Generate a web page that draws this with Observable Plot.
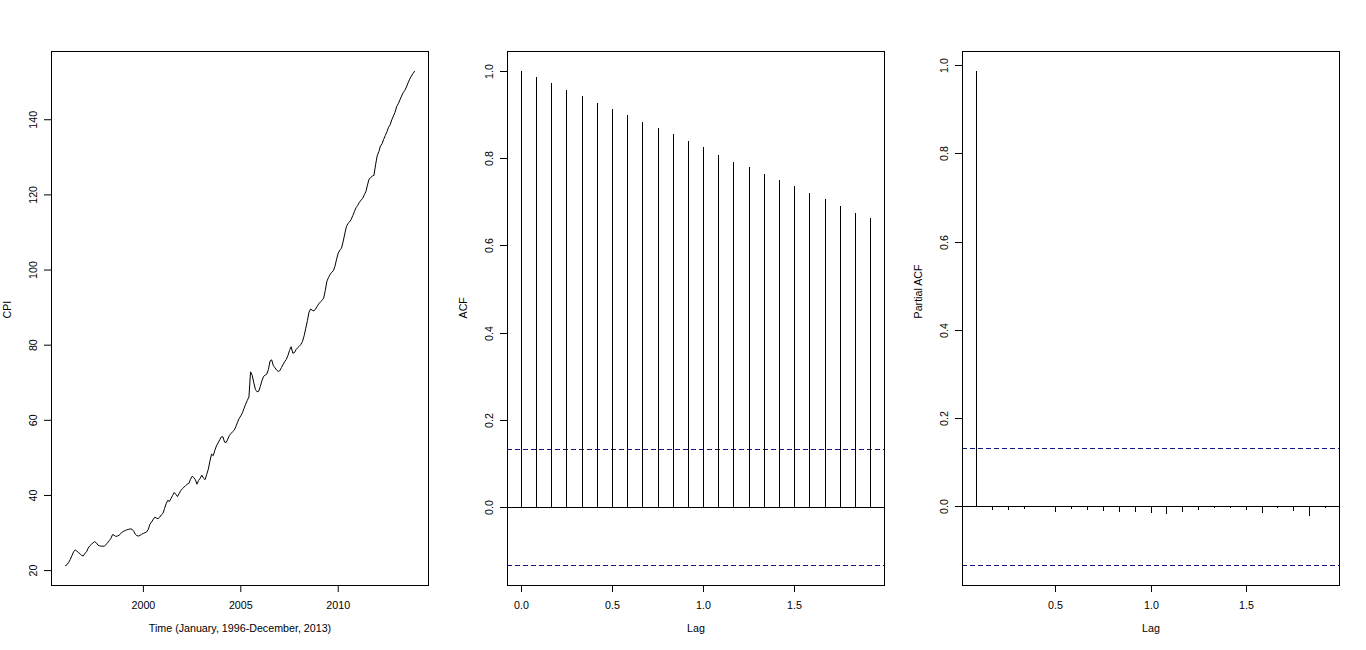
<!DOCTYPE html>
<html><head><meta charset="utf-8">
<script src="https://cdn.jsdelivr.net/npm/d3@7"></script>
<script src="https://cdn.jsdelivr.net/npm/@observablehq/plot@0.6"></script>
<style>body{margin:0;background:#fff} #row{display:flex;width:1366px;height:650px;align-items:flex-start}</style>
</head><body><div id="row"></div>
<script>
// Monthly CPI, January 1996 - December 2013
const startYear = 1996;
const cpi = [
21.3,21.6,22.2,23.0,24.0,25.0,25.5,25.2,24.8,24.5,24.0,23.9,
24.6,25.0,26.0,26.6,27.0,27.4,27.7,27.4,26.8,26.6,26.5,26.5,
26.5,27.0,27.4,28.0,28.6,29.6,29.4,29.1,29.2,29.4,29.8,30.3,
30.5,30.7,30.9,31.0,31.1,31.0,30.5,29.7,29.3,29.2,29.4,29.7,
29.9,30.1,30.3,31.0,32.3,32.9,33.6,34.2,34.0,33.8,34.2,34.8,
35.2,36.5,37.8,38.7,38.4,39.2,40.0,40.8,40.3,39.7,40.5,41.3,
41.8,42.2,42.6,43.0,43.2,44.3,45.1,44.8,44.2,43.0,44.0,44.6,
45.4,44.6,44.2,45.6,47.0,49.2,51.0,50.6,52.0,53.2,54.0,54.8,
55.6,55.6,54.2,54.1,55.0,56.0,56.5,57.0,57.4,58.4,59.5,60.5,
61.2,62.0,63.2,64.3,65.3,66.2,72.9,72.0,70.0,68.2,67.6,67.7,
69.0,70.5,71.7,72.0,72.3,73.5,75.8,76.1,74.6,74.0,73.4,73.0,
73.2,74.0,74.8,75.6,76.2,77.2,78.6,79.6,77.9,78.0,78.8,79.3,
79.7,80.2,81.0,82.5,84.5,86.5,88.8,89.6,89.3,89.1,89.6,90.3,
91.0,91.5,91.9,92.5,94.5,97.0,98.0,98.8,99.4,99.8,101.0,102.9,
104.5,105.3,105.8,107.5,109.6,111.5,112.4,112.8,113.5,114.5,115.6,116.6,
117.2,118.0,118.6,119.0,120.0,120.8,122.6,124.2,124.6,125.0,125.2,128.0,
130.4,131.5,133.0,133.6,134.8,135.8,136.8,138.0,138.7,140.0,141.0,142.0,
143.5,144.3,145.3,146.3,147.2,147.8,148.7,149.8,150.8,151.6,152.3,152.9
];
// ACF at lags 0..23 months
const acfValues = [1.000,0.985,0.972,0.956,0.942,0.926,0.912,0.898,0.882,0.868,0.855,0.838,
  0.825,0.808,0.792,0.779,0.763,0.749,0.735,0.719,0.705,0.691,0.675,0.662];
// PACF at lags 1..23 months
const pacfValues = [0.987,-0.009,-0.0075,-0.006,0.001,-0.012,-0.006,-0.0075,-0.0105,-0.012,-0.012,-0.015,
  -0.0166,-0.012,-0.0075,-0.003,-0.003,-0.009,-0.015,-0.003,-0.0105,-0.021,-0.0045];
const nObs = cpi.length;
const ci = 1.96 / Math.sqrt(nObs);

const cpiTicksY = [20,40,60,80,100,120,140];
const yearTicks = [2000,2005,2010];
const acfTicksY = [0,0.2,0.4,0.6,0.8,1.0];
const acfTicksX = [0,0.5,1.0,1.5];
const pacfTicksX = [0.5,1.0,1.5];

const series = cpi.map((v,i)=>({t: startYear + i/12, v}));
const acfData = acfValues.map((v,i)=>({lag: i/12, v}));
const pacfData = pacfValues.map((v,i)=>({lag: (i+1)/12, v}));

function pad(arr){const lo=d3.min(arr), hi=d3.max(arr), d=(hi-lo)*0.04; return [lo-d, hi+d];}

const style = {fontFamily:"'Liberation Sans', Arial, sans-serif", fontSize:"10.7px", background:"white", color:"black", overflow:"visible"};
const ciColor = "#14148c";

function panel({width, ml, mr, xDomain, yDomain, xTicks, yTicks, xFmt, yFmt, xLabel, yLabel, round, marks}) {
  return Plot.plot({
    width, height:650, marginLeft:ml, marginRight:mr, marginTop:51, marginBottom:65,
    style,
    x: {domain: xDomain, round},
    y: {domain: yDomain, round},
    marks: [
      ...marks,
      Plot.frame({stroke:"black"}),
      Plot.axisX(xTicks, {tickSize:7, tickPadding:9, tickFormat:xFmt, label:null}),
      Plot.axisY(yTicks, {tickSize:7, tickPadding:8, tickRotate:-90, tickFormat:yFmt, label:null}),
      Plot.text([xLabel], {frameAnchor:"bottom", dy:46, text:d=>d}),
      Plot.text([yLabel], {frameAnchor:"left", dx:-43.5, rotate:-90, text:d=>d})
    ]
  });
}

const f1 = d3.format(".1f");
const row = document.getElementById("row");

row.append(panel({
  width:455, ml:51, mr:27, round:false,
  xDomain: pad(series.map(d=>d.t)), yDomain: pad(cpi),
  xTicks: yearTicks, yTicks: cpiTicksY, xFmt: d3.format("d"), yFmt: d3.format("d"),
  xLabel: "Time (January, 1996-December, 2013)", yLabel: "CPI",
  marks: [Plot.line(series, {x:"t", y:"v", stroke:"black", strokeWidth:1})]
}));

row.append(panel({
  width:455, ml:52, mr:26, round:true,
  xDomain: pad(acfData.map(d=>d.lag)), yDomain: pad([...acfValues, ci, -ci]),
  xTicks: acfTicksX, yTicks: acfTicksY, xFmt: f1, yFmt: f1,
  xLabel: "Lag", yLabel: "ACF",
  marks: [
    Plot.ruleY([ci, -ci], {stroke: ciColor, strokeDasharray:"5,3"}),
    Plot.ruleY([0], {stroke:"black"}),
    Plot.ruleX(acfData, {x:"lag", y1:0, y2:"v", stroke:"black"})
  ]
}));

row.append(panel({
  width:456, ml:52, mr:27, round:true,
  xDomain: pad(pacfData.map(d=>d.lag)), yDomain: pad([...pacfValues, ci, -ci]),
  xTicks: pacfTicksX, yTicks: acfTicksY, xFmt: f1, yFmt: f1,
  xLabel: "Lag", yLabel: "Partial ACF",
  marks: [
    Plot.ruleY([ci, -ci], {stroke: ciColor, strokeDasharray:"5,3"}),
    Plot.ruleY([0], {stroke:"black"}),
    Plot.ruleX(pacfData, {x:"lag", y1:0, y2:"v", stroke:"black"})
  ]
}));
</script></body></html>
